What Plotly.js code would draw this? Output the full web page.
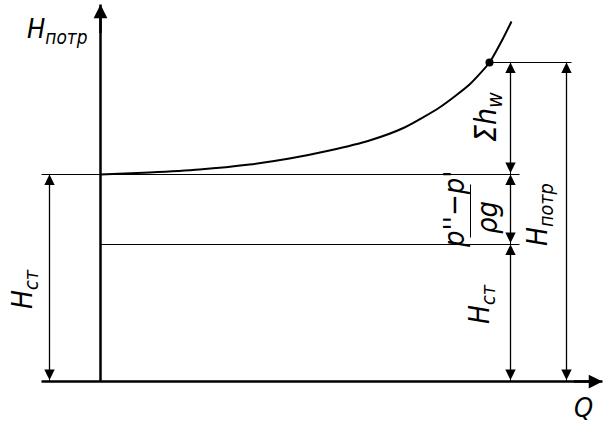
<!DOCTYPE html>
<html><head><meta charset="utf-8">
<script src="https://cdn.plot.ly/plotly-3.0.1.min.js"></script>
<style>html,body{margin:0;padding:0;background:#fff}#c{width:616px;height:423px}</style>
</head><body><div id="c"></div>
<script>
// Curve of required head vs flow (diagram units)
const curveQ = [0, 49, 99, 149, 189, 229, 269, 304, 339, 369, 389, 402, 411];
const curveH = [207, 209, 212, 217, 223, 231, 241, 254, 274, 297, 319, 342, 360];
// Characteristic levels
const H_st = 207;      // static head level
const H_low = 137;     // level of H_st on right dimension
const H_potr = 319;    // required head at operating point
const Q_op = 389;      // operating point flow
// Dimension line positions
const dimLeftQ = -51, dimRight1Q = 410, dimRight2Q = 466;
const extLeftQ = -59, extRightQ = 419, extTopQ = 471;
const axisQmax = 502, axisHmax = 377;

const FONT = '"DejaVu Sans Condensed", "DejaVu Sans", sans-serif';
function line(x, y, w){ return {x:x, y:y, mode:'lines', line:{color:'#000', width:w||1}, hoverinfo:'skip', showlegend:false}; }

const traces = [
  line([extLeftQ, axisQmax], [0, 0], 2.5),
  line([0, 0], [0, axisHmax], 2.5),
  line([extLeftQ, extRightQ], [H_st, H_st], 1),
  line([0, extRightQ], [H_low, H_low], 1),
  line([Q_op, extTopQ], [H_potr, H_potr], 1),
  line([dimLeftQ, dimLeftQ], [0, H_st], 1),
  line([dimRight1Q, dimRight1Q], [0, H_potr], 1),
  line([dimRight2Q, dimRight2Q], [0, H_potr], 1),
  {x:curveQ, y:curveH, mode:'lines', line:{color:'#000', width:2, shape:'spline', smoothing:0.6}, hoverinfo:'skip', showlegend:false},
  {x:[Q_op], y:[H_potr], mode:'markers', marker:{color:'#000', size:8}, hoverinfo:'skip', showlegend:false}
];

function dim(x1, y1, x2, y2){
  return {x:x2, y:y2, ax:x1, ay:y1, axref:'x', ayref:'y', xref:'x', yref:'y', text:'', showarrow:true,
    arrowhead:2, arrowside:'end+start', arrowsize:1.6, arrowwidth:1.3, arrowcolor:'#000', standoff:0, startstandoff:0,
    startarrowhead:2, startarrowsize:1.6};
}
function axArrow(x1, y1, x2, y2){
  return {x:x2, y:y2, ax:x1, ay:y1, axref:'x', ayref:'y', xref:'x', yref:'y', text:'', showarrow:true,
    arrowhead:2, arrowsize:1.1, arrowwidth:2.5, arrowcolor:'#000', standoff:0};
}
function label(x, y, txt, ang, size){
  return {x:x, y:y, xref:'x', yref:'y', text:txt, showarrow:false, textangle:ang||0,
    font:{family:FONT, size:size||26, color:'#000', style:'italic'}};
}

const annotations = [
  axArrow(0, axisHmax-30, 0, axisHmax),
  axArrow(axisQmax-30, 0, axisQmax, 0),
  dim(dimLeftQ, 0, dimLeftQ, H_st),
  dim(dimRight1Q, 0, dimRight1Q, H_low),
  dim(dimRight1Q, H_low, dimRight1Q, H_st),
  dim(dimRight1Q, H_st, dimRight1Q, H_potr),
  dim(dimRight2Q, 0, dimRight2Q, H_potr),
  label(-43, 351, '<i>H</i><sub><i>потр</i></sub>', 0, 27),
  label(483, -26, '<i>Q</i>', 0, 27),
  label(-76, 92, '<i>H</i><sub><i>ст</i></sub>', -90, 28),
  label(381, 77, '<i>H</i><sub><i>ст</i></sub>', -90, 28),
  label(439, 167, '<i>H</i><sub><i>потр</i></sub>', -90, 28),
  label(387, 264, '<i>Σh</i><sub><i>w</i></sub>', -90, 30),
  label(353, 172, "<i>p''−p'</i>", -90, 29),
  label(386, 164, '<i>ρg</i>', -90, 29)
];

const shapes = [
  {type:'line', xref:'x', yref:'y', x0:370, x1:370, y0:144, y1:197, line:{color:'#000', width:1}}
];

const layout = {
  width:616, height:423, margin:{l:0, r:0, t:0, b:0},
  paper_bgcolor:'#fff', plot_bgcolor:'#fff',
  xaxis:{range:[-100.5, 515.5], visible:false, fixedrange:true},
  yaxis:{range:[-41.5, 381.5], visible:false, fixedrange:true},
  annotations:annotations, shapes:shapes, showlegend:false
};
Plotly.newPlot('c', traces, layout, {staticPlot:true, displayModeBar:false});
</script></body></html>
